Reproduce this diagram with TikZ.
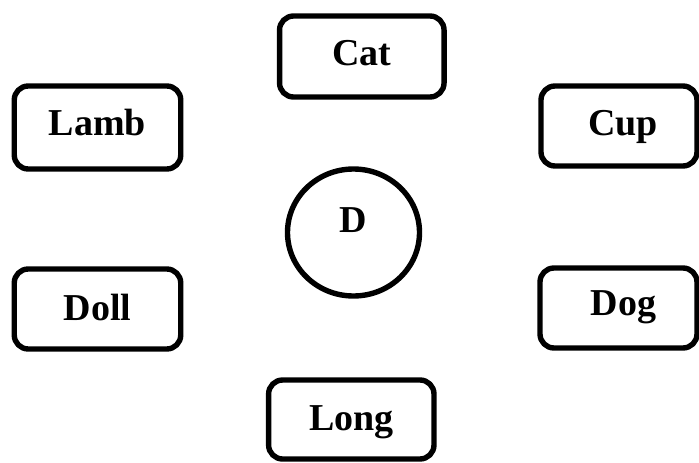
\documentclass[tikz,border=0pt]{standalone}
\usepackage{fontspec}
\setmainfont{Liberation Serif}
\usetikzlibrary{shapes.geometric}
\begin{document}
\begin{tikzpicture}[x=1pt,y=-1pt,
  box/.style={draw, line width=5.4pt, rounded corners=14pt, inner sep=0pt,
    text height=25pt, text depth=0pt, font=\fontsize{38}{45}\selectfont\bfseries},
  ring/.style={draw, ellipse, line width=5.4pt, inner sep=0pt,
    text height=25pt, text depth=0pt, font=\fontsize{38}{45}\selectfont\bfseries}]
\useasboundingbox (0,0) rectangle (699,463);
\node[box, minimum width=164.5pt, minimum height=81pt] (cat) at (361.8,56.5) {\raisebox{4pt}{Cat}};
\node[box, minimum width=166.5pt, minimum height=83pt] (lamb) at (97.5,127.5) {\raisebox{5pt}{Lamb}};
\node[box, minimum width=156pt, minimum height=80pt] (cup) at (619,126) {\hspace*{8pt}\raisebox{3.5pt}{Cup}};
\node[ring, minimum width=132pt, minimum height=127pt] (d) at (353.5,232.5) {\raisebox{13pt}{D}};
\node[box, minimum width=166.5pt, minimum height=80pt] (doll) at (97.5,309) {\raisebox{1.5pt}{Doll}};
\node[box, minimum width=157pt, minimum height=80pt] (dog) at (618.5,308) {\hspace*{10pt}\raisebox{5pt}{Dog}};
\node[box, minimum width=165.4pt, minimum height=79pt] (long) at (351.3,419.5) {\raisebox{2pt}{Long}};
\end{tikzpicture}
\end{document}
